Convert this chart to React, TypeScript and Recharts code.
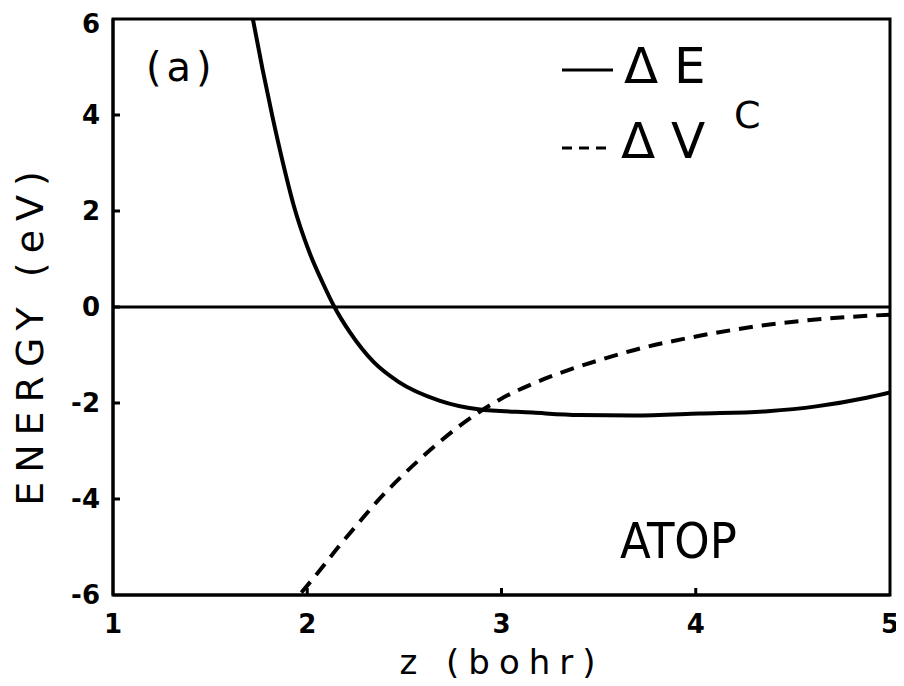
import React from "react";
import {
  LineChart,
  Line,
  XAxis,
  YAxis,
  ReferenceLine,
  ReferenceArea,
} from "recharts";

// Total energy change ΔE versus height z (bohr)
const deltaE = [
  { z: 1.72, v: 6.0 },
  { z: 1.77, v: 4.95 },
  { z: 1.82, v: 3.98 },
  { z: 1.875, v: 3.0 },
  { z: 1.93, v: 2.12 },
  { z: 2.01, v: 1.15 },
  { z: 2.08, v: 0.5 },
  { z: 2.14, v: 0.0 },
  { z: 2.22, v: -0.53 },
  { z: 2.34, v: -1.14 },
  { z: 2.47, v: -1.56 },
  { z: 2.68, v: -1.95 },
  { z: 2.88, v: -2.13 },
  { z: 3.16, v: -2.2 },
  { z: 3.4, v: -2.25 },
  { z: 3.68, v: -2.26 },
  { z: 4.02, v: -2.22 },
  { z: 4.37, v: -2.17 },
  { z: 4.62, v: -2.07 },
  { z: 4.88, v: -1.89 },
  { z: 5.0, v: -1.78 },
];

// Coulomb potential change ΔV^C versus height z (bohr)
const deltaVc = [
  { z: 1.97, v: -5.95 },
  { z: 2.07, v: -5.46 },
  { z: 2.16, v: -5.0 },
  { z: 2.26, v: -4.52 },
  { z: 2.36, v: -4.05 },
  { z: 2.48, v: -3.55 },
  { z: 2.58, v: -3.17 },
  { z: 2.67, v: -2.85 },
  { z: 2.77, v: -2.52 },
  { z: 2.87, v: -2.23 },
  { z: 2.99, v: -1.93 },
  { z: 3.16, v: -1.6 },
  { z: 3.34, v: -1.32 },
  { z: 3.51, v: -1.1 },
  { z: 3.68, v: -0.9 },
  { z: 4.02, v: -0.6 },
  { z: 4.37, v: -0.37 },
  { z: 4.71, v: -0.23 },
  { z: 5.0, v: -0.16 },
];

const xTicks = [1, 2, 3, 4, 5];
const yTicks = [-6, -4, -2, 0, 2, 4, 6];
const xInnerTicks = [2, 3, 4];
const yInnerTicks = [-4, -2, 0, 2, 4];

const W = 890;
const H = 678;
const FONT = "'DejaVu Sans', 'Liberation Sans', sans-serif";

const YTick = (props: any) => {
  const { x, y, payload } = props;
  const v = payload.value;
  // the top label sits a little below the frame corner
  const dy = v === 6 ? 14 : 9;
  return (
    <g>
      {yInnerTicks.includes(v) && (
        <line x1={x + 13} x2={x + 20} y1={y} y2={y} stroke="#000" strokeWidth={3} />
      )}
      <text
        x={x}
        y={y + dy}
        textAnchor="end"
        fontFamily={FONT}
        fontWeight="bold"
        fontSize={26}
        fill="#000"
      >
        {v}
      </text>
    </g>
  );
};

const XTick = (props: any) => {
  const { x, y, payload } = props;
  const v = payload.value;
  return (
    <g>
      {xInnerTicks.includes(v) && (
        <line x1={x} x2={x} y1={y - 17} y2={y - 24} stroke="#000" strokeWidth={3} />
      )}
      <text
        x={x}
        y={y + 21}
        textAnchor="middle"
        fontFamily={FONT}
        fontWeight="bold"
        fontSize={26}
        fill="#000"
      >
        {v}
      </text>
    </g>
  );
};

export default function App() {
  return (
    <div style={{ position: "relative", width: W, height: H, background: "#fff" }}>
      <LineChart
        width={W}
        height={H}
        margin={{ top: 11, right: 8, left: 0, bottom: 0 }}
        style={{ overflow: "visible" }}
      >
        <XAxis
          type="number"
          dataKey="z"
          domain={[1, 5]}
          ticks={xTicks}
          allowDataOverflow
          height={91}
          tickSize={0}
          tickMargin={17}
          tickLine={false}
          axisLine={{ stroke: "#000", strokeWidth: 3 }}
          tick={<XTick />}
        />
        <YAxis
          type="number"
          domain={[-6, 6]}
          ticks={yTicks}
          allowDataOverflow
          width={105}
          tickSize={0}
          tickMargin={13}
          tickLine={false}
          axisLine={{ stroke: "#000", strokeWidth: 3 }}
          tick={<YTick />}
        />
        <ReferenceArea
          x1={1}
          x2={5}
          y1={-6}
          y2={6}
          fill="none"
          stroke="#000"
          strokeWidth={3}
          ifOverflow="visible"
        />
        <ReferenceLine y={0} stroke="#000" strokeWidth={3} />
        <Line
          data={deltaE}
          dataKey="v"
          type="monotone"
          stroke="#000"
          strokeWidth={4}
          dot={false}
          isAnimationActive={false}
        />
        <Line
          data={deltaVc}
          dataKey="v"
          type="monotone"
          stroke="#000"
          strokeWidth={4}
          strokeDasharray="14 9"
          dot={false}
          isAnimationActive={false}
        />
      </LineChart>
      <svg
        width={W}
        height={H}
        style={{ position: "absolute", left: 0, top: 0, pointerEvents: "none" }}
      >
        <text x={138} y={73} fontFamily={FONT} fontSize={40} letterSpacing={5} fill="#000">
          (a)
        </text>
        <line x1={554} x2={605} y1={62} y2={62} stroke="#000" strokeWidth={3} />
        <text x={616} y={75} fontFamily={FONT} fontSize={50} fill="#000">
          Δ E
        </text>
        <line
          x1={554}
          x2={604}
          y1={140}
          y2={140}
          stroke="#000"
          strokeWidth={3}
          strokeDasharray="10 7"
        />
        <text x={613} y={150} fontFamily={FONT} fontSize={50} fill="#000">
          Δ V
        </text>
        <text x={726} y={120} fontFamily={FONT} fontSize={38} fill="#000">
          C
        </text>
        <text
          x={612}
          y={550}
          fontFamily="'DejaVu Sans Condensed', 'DejaVu Sans', sans-serif"
          fontSize={50}
          fill="#000"
        >
          ATOP
        </text>
        <text
          x={494}
          y={666}
          textAnchor="middle"
          fontFamily={FONT}
          fontSize={34}
          letterSpacing={9}
          fill="#000"
        >
          z (bohr)
        </text>
        <text
          x={22}
          y={326}
          transform="rotate(-90 22 326)"
          textAnchor="middle"
          dominantBaseline="central"
          fontFamily={FONT}
          fontSize={38}
          letterSpacing={9}
          fill="#000"
        >
          ENERGY (eV)
        </text>
      </svg>
    </div>
  );
}
